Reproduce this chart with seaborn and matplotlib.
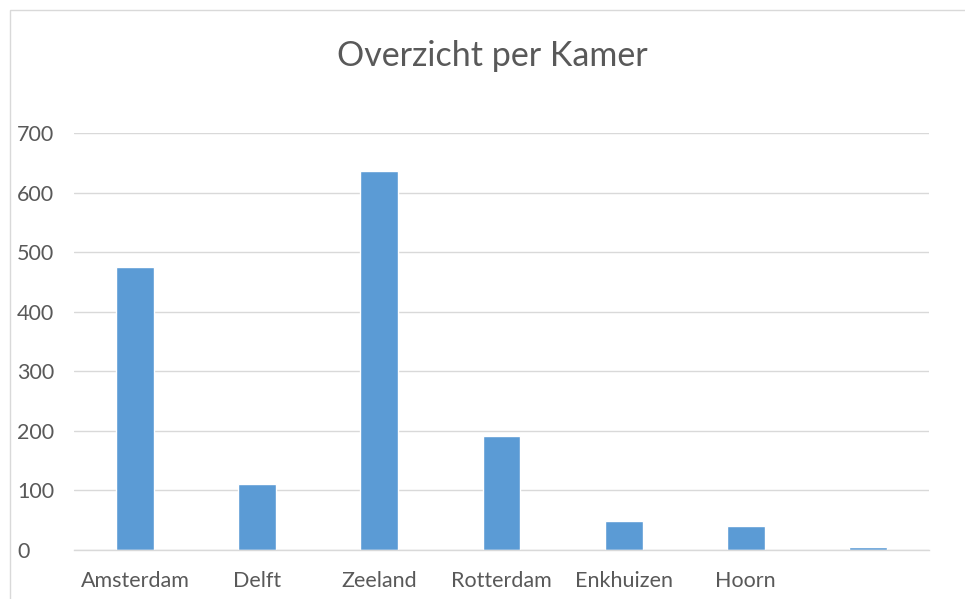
import matplotlib
matplotlib.use("Agg")
import matplotlib.pyplot as plt
import seaborn as sns
import pandas as pd
from matplotlib.patches import Rectangle

kamers = ["Amsterdam", "Delft", "Zeeland", "Rotterdam", "Enkhuizen", "Hoorn", ""]
aantallen = [475, 111, 636, 191, 48, 40, 5]
yticks = [0, 100, 200, 300, 400, 500, 600, 700]

sns.set_theme(style="white")
plt.rcParams["font.family"] = ["Lato", "DejaVu Sans"]

text_color = "#595959"
grid_color = "#D9D9D9"

df = pd.DataFrame({"kamer": [k if k else " " for k in kamers], "aantal": aantallen})

fig = plt.figure(figsize=(9.65, 5.99), dpi=100)
ax = fig.add_axes([74 / 965, 1 - 550 / 599, (929 - 74) / 965, (550 - 133) / 599])

sns.barplot(data=df, x="kamer", y="aantal", color="#5B9BD5", width=0.31,
            saturation=1, ax=ax, zorder=2)

ax.set_ylim(0, 700)
ax.set_xlim(-0.5, len(kamers) - 0.5)
ax.set_yticks(yticks)
ax.set_yticklabels([str(v) for v in yticks], fontsize=15.5, color=text_color)
ax.set_xticks(range(len(kamers)))
ax.set_xticklabels(kamers, fontsize=15.5, color=text_color)
ax.tick_params(axis="both", length=0)
ax.yaxis.grid(True, color=grid_color, linewidth=1, zorder=0)
ax.set_axisbelow(True)
for side in ["top", "right", "left"]:
    ax.spines[side].set_visible(False)
ax.spines["bottom"].set_color(grid_color)
ax.spines["bottom"].set_linewidth(1)
ax.set_xlabel("")
ax.set_ylabel("")
for lbl in ax.get_yticklabels():
    lbl.set_horizontalalignment("left")
# pads are in points (1 px = 0.72 pt at 100 dpi)
ax.tick_params(axis="y", pad=41)
ax.tick_params(axis="x", pad=15)

fig.text(492 / 965, 1 - 56 / 599, "Overzicht per Kamer", ha="center", va="center",
         fontsize=24.5, color=text_color)

# chart frame (partly cropped in the reference)
fig.patches.append(Rectangle((10 / 965, -0.1), 1.2, 1 - 10 / 599 + 0.1,
                             transform=fig.transFigure, fill=False,
                             edgecolor=grid_color, linewidth=1))

fig.savefig("out.png", dpi=100)
plt.close(fig)
